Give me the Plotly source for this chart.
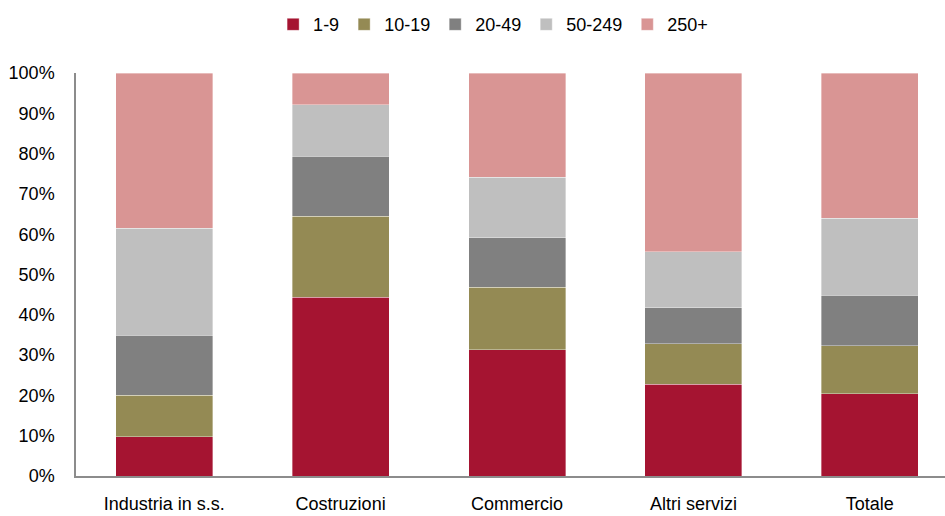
import plotly.graph_objects as go

# Quota per classe dimensionale (numero addetti) per settore
categories = ["Industria in s.s.", "Costruzioni", "Commercio", "Altri servizi", "Totale"]
size_classes = ["1-9", "10-19", "20-49", "50-249", "250+"]

share_1_9 = [9.7, 44.4, 31.3, 22.8, 20.4]
share_10_19 = [10.3, 20.0, 15.5, 10.0, 11.9]
share_20_49 = [14.9, 14.9, 12.3, 8.9, 12.5]
share_50_249 = [26.6, 12.8, 15.0, 14.0, 19.1]
share_250 = [38.5, 7.9, 25.9, 44.3, 36.1]

series = [share_1_9, share_10_19, share_20_49, share_50_249, share_250]
colors = ["#A51431", "#948A54", "#808080", "#BFBFBF", "#D99594"]

FONT = "Liberation Sans, Arial, sans-serif"

fig = go.Figure()
for name, vals, col in zip(size_classes, series, colors):
    fig.add_trace(go.Bar(
        x=categories,
        y=[v / 100 for v in vals],
        name=name,
        marker=dict(color=col, line=dict(color="rgba(255,255,255,0.6)", width=0.6)),
        width=0.55,
    ))

fig.update_layout(
    barmode="stack",
    width=945,
    height=516,
    margin=dict(l=76, r=0, t=73, b=40),
    paper_bgcolor="white",
    plot_bgcolor="white",
    font=dict(family=FONT, size=18, color="#000000"),
    legend=dict(
        orientation="h",
        x=0.48, xanchor="center",
        y=1.12, yanchor="middle",
        font=dict(family=FONT, size=18),
        traceorder="normal",
        itemwidth=30,
    ),
    xaxis=dict(
        range=[-0.5, 4.426],
        showline=True,
        linecolor="#8C8C8C",
        linewidth=1.5,
        showgrid=False,
        ticks="outside",
        ticklen=11,
        tickcolor="rgba(0,0,0,0)",
        tickfont=dict(family=FONT, size=18),
    ),
    yaxis=dict(
        range=[0, 1],
        tickvals=[i / 10 for i in range(11)],
        tickformat=".0%",
        showline=True,
        linecolor="#8C8C8C",
        linewidth=1.5,
        showgrid=False,
        zeroline=False,
        ticks="outside",
        ticklen=16,
        tickcolor="rgba(0,0,0,0)",
        tickfont=dict(family=FONT, size=18),
    ),
)

fig.write_html("out.html")
